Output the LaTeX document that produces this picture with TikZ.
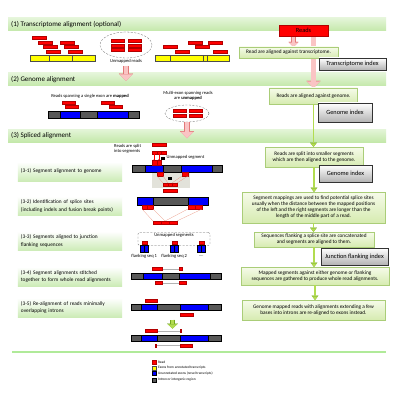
\documentclass[tikz,border=0pt]{standalone}
\usepackage{fontspec}
\setmainfont{Carlito}
\usetikzlibrary{arrows.meta,shadows,backgrounds,shapes.geometric}

\definecolor{readred}{RGB}{255,0,0}
\definecolor{exonblue}{RGB}{0,0,255}
\definecolor{introngray}{RGB}{88,88,88}
\definecolor{knownyellow}{RGB}{255,255,0}
\definecolor{bandgreen}{RGB}{196,232,170}
\definecolor{boxgreen}{RGB}{214,235,176}
\definecolor{boxgreenl}{RGB}{246,251,234}
\definecolor{boxedge}{RGB}{170,205,120}
\definecolor{arrpink}{RGB}{250,196,196}
\definecolor{arrpinkd}{RGB}{226,120,120}
\definecolor{arrgreen}{RGB}{178,220,80}
\definecolor{arrgreend}{RGB}{115,165,35}
\definecolor{graybox}{RGB}{226,226,218}

\newcommand\fourdots{....}

\tikzset{
  read/.style={fill=readred, draw=red!70!black, line width=0.2pt},
  exon/.style={fill=exonblue, draw=black, line width=0.3pt},
  intron/.style={fill=introngray, draw=black, line width=0.3pt},
  known/.style={fill=knownyellow, draw=black!70, line width=0.3pt},
  gapline/.style={draw=black!30, line width=0.6pt},
  joinline/.style={draw=red!45!brown!60, line width=0.3pt},
  sectitle/.style={anchor=west, inner sep=0pt, font=\fontsize{10}{11}\selectfont},
  sublabel/.style={minimum width=52mm, minimum height=9.5mm, text width=49mm, inner xsep=1.5mm,
    align=left, top color=white, bottom color=bandgreen!85, font=\fontsize{7.6}{10}\selectfont},
  tinytxt/.style={inner sep=0pt, font=\fontsize{6.5}{7.5}\selectfont},
  legtxt/.style={inner sep=0pt, anchor=west, font=\fontsize{5}{5}\selectfont},
  stepbox/.style={draw=boxedge, line width=0.5pt, top color=boxgreenl, bottom color=boxgreen,
    align=center, inner sep=1pt, font=\fontsize{7.5}{8.5}\selectfont,
    drop shadow={shadow xshift=0.8pt, shadow yshift=-0.8pt, opacity=0.3}},
  idxbox/.style={draw=black!80, line width=0.8pt, top color=white, bottom color=black!30,
    inner sep=1pt, font=\fontsize{9}{10}\selectfont,
    drop shadow={shadow xshift=1.2pt, shadow yshift=-1.2pt, opacity=0.5}},
  readsbox/.style={fill=readred, draw=red!70!black, line width=0.4pt, minimum width=24.5mm,
    minimum height=5.5mm, font=\fontsize{9}{10}\selectfont},
  pinkarr/.style={draw=arrpink, line width=7pt,
    -{Triangle[length=9pt,width=18pt,line width=0.1pt]},
    preaction={draw=arrpinkd, line width=8.2pt, -{Triangle[length=10pt,width=20pt,line width=0.1pt]}}},
  pinksmall/.style={draw=arrpink, line width=5pt,
    -{Triangle[length=6pt,width=12pt,line width=0.1pt]},
    preaction={draw=arrpinkd, line width=6.2pt, -{Triangle[length=7pt,width=14pt,line width=0.1pt]}}},
  greenarr/.style={draw=arrgreen, line width=1.8pt,
    -{Triangle[length=5pt,width=7.5pt,line width=0.1pt]},
    preaction={draw=arrgreend, line width=2.8pt, -{Triangle[length=6pt,width=9.5pt,line width=0.1pt]}}},
  greenblk/.style={draw=arrgreen, line width=5pt,
    -{Triangle[length=6pt,width=13pt,line width=0.1pt]},
    preaction={draw=arrgreend, line width=6pt, -{Triangle[length=7pt,width=15pt,line width=0.1pt]}}},
}

\begin{document}
\begin{tikzpicture}[x=0.5mm, y=-0.5mm]
  \useasboundingbox (0,0) rectangle (400,400);
  \begin{pgfonlayer}{background}
    \fill[white] (0,0) rectangle (400,400);
    % section bands
    \foreach \y in {18,73,129}
      \shade[top color=bandgreen!45, bottom color=bandgreen] (8,\y) rectangle (386,\y+13);
  \end{pgfonlayer}
  \node[sectitle] (sec1) at (11,24.5) {(1) Transcriptome alignment (optional)};
  \node[sectitle] (sec2) at (11,79.5) {(2) Genome alignment};
  \node[sectitle] (sec3) at (11,135.5) {(3) Spliced alignment};

  % (1) reads on known transcripts
  \filldraw[known] (30,55) rectangle (95,61);
  \foreach \a in {49,72} \draw[black!70, line width=0.3pt] (\a,55) -- (\a,61);
  \foreach \a/\y in {32/36.5,38/41,43/45.5,46/50,60/41,64/45.5,68/50}
    \filldraw[read] (\a,\y) rectangle (\a+14,\y+3);
  \filldraw[known] (155,55) rectangle (229,61);
  \foreach \a in {170,203,207} \draw[black!70, line width=0.3pt] (\a,55) -- (\a,61);
  \foreach \a/\y in {163/45.5,175/50,188/41,195/45.5,208/41,213/50}
    \filldraw[read] (\a,\y) rectangle (\a+14,\y+3);
  \node[ellipse, draw=black!60, densely dashed, minimum width=26mm, minimum height=13mm] (unmap1) at (126,45) {};
  \foreach \a in {111,128} \foreach \y in {39.5,44,48.5}
    \filldraw[read] (\a,\y) rectangle (\a+13.5,\y+3);
  \node[tinytxt] (unmaplbl) at (126,61.5) {Unmapped reads};
  \draw[pinkarr] (unmaplbl.south) ++(0,2) -- ++(0,15);

  % (2) genome alignment
  \node[tinytxt] (maplbl) at (90,96) {Reads spanning a single exon are \textbf{mapped}};
  \foreach \a/\b/\k in {48/60/intron,60/80/exon,80/97/intron,97/128/exon,128/139/intron}
    \filldraw[\k] (\a,111) rectangle (\b,118);
  \foreach \a/\y in {62/101,65/105.5,101/101,109/105.5}
    \filldraw[read] (\a,\y) rectangle (\a+13.5,\y+3);
  \node[tinytxt, align=center] (multilbl) at (188,96) {Multi-exon spanning reads\\are \textbf{unmapped}};
  \node[ellipse, draw=black!60, densely dashed, minimum width=22mm, minimum height=8.5mm] (unmap2) at (187,113.5) {};
  \foreach \a in {173,189.5} \foreach \y in {109.5,114}
    \filldraw[read] (\a,\y) rectangle (\a+13,\y+3);
  \draw[pinkarr] (unmap2.south) -- ++(0,16);

  % (3) spliced alignment, labels
  \foreach \y/\txt [count=\i] in {171.5/{(3-1) Segment alignment to genome},
      206/{(3-2) Identification of splice sites\\(including indels and fusion break points)},
      241/{(3-3) Segments aligned to junction\\flanking sequences},
      276.5/{(3-4) Segment alignments stitched\\together to form whole read alignments},
      307.5/{(3-5) Re-alignment of reads minimally\\overlapping introns}}
    \node[sublabel] (sub\i) at (70,\y) {\txt};

  % (3-1)
  \node[tinytxt, align=left, anchor=west] (splitlbl) at (114,148.5) {Reads are split\\into segments};
  \filldraw[read] (152,143.5) rectangle (166,146.5);
  \foreach \a in {152,156.67,161.33} \filldraw[read] (\a,151) rectangle (\a+4.67,154);
  \foreach \a in {154.3,159}
    \draw[red, line width=0.4pt, -{Stealth[length=2pt,width=2pt]}] (\a,154) -- (\a,160.5);
  \fill[black] (161,156.5) rectangle (164.5,160);
  \node[tinytxt, anchor=west] (unmapseg) at (166.5,157.5) {Unmapped segment};
  \fill[graybox] (152,172) rectangle (190,188);
  \foreach \a/\b/\k in {132/145/intron,145/163/exon,163/181/intron,181/212/exon,212/222/intron}
    \filldraw[\k] (\a,165) rectangle (\b,172);
  \foreach \a in {152.5,157} \filldraw[read] (\a,160.5) rectangle (\a+4.5,165);
  \filldraw[read] (157,172) rectangle (163,176);
  \filldraw[read] (182,172) rectangle (188,176);
  \fill[black] (168,176.5) rectangle (171.5,180);
  \draw[joinline] (157,176) -- (163,183) (163,176) -- (168,183) (182,176) -- (172,183) (188,176) -- (177,183);
  \foreach \a in {163,167.67,172.33} \filldraw[read] (\a,183) rectangle (\a+4.67,186);
  \filldraw[read] (163,189) rectangle (177,192);

  % (3-2)
  \foreach \a/\b/\k in {137/153/exon,153/188/intron,188/208/exon}
    \filldraw[\k] (\a,197) rectangle (\b,205);
  \foreach \a/\b in {142/147.5,147.5/153,188/195,195/202}
    \filldraw[read] (\a,205) rectangle (\b,209);
  \draw[joinline] (142,209) -- (153,221) (153,209) -- (165,221) (188,209) -- (165,221) (202,209) -- (177,221);
  \foreach \a in {153,161,169} \filldraw[read] (\a,221) rectangle (\a+8,224.5);

  % (3-3)
  \node[draw=black!60, densely dashed, rounded corners=2pt, minimum width=36mm, minimum height=6.5mm] (useg) at (174,239) {};
  \node[tinytxt, anchor=north] (useglbl) at ([yshift=-0.8pt]useg.north) {Unmapped segments};
  \foreach \a/\lbl [count=\i] in {140/{flanking seq 1},170/{flanking seq 2},197/{\fourdots}} {
    \filldraw[read] (\a+2,241) rectangle (\a+7.5,244);
    \filldraw[exon] (\a,245) rectangle (\a+4.25,252);
    \filldraw[exon] (\a+4.25,245) rectangle (\a+8.5,252);
    \node[tinytxt] (flk\i) at (\a+4.25,256.5) {\lbl};
  }

  % (3-4)
  \foreach \a/\b/\k in {131/143/intron,143/162/exon,162/179/intron,179/210/exon,210/221/intron}
    \filldraw[\k] (\a,273) rectangle (\b,279);
  \draw[gapline] (162,269) -- (179,269) (162,283) -- (179,283);
  \filldraw[read] (152,267.5) rectangle (162,270.5);
  \filldraw[read] (179,267.5) rectangle (182.5,270.5);
  \filldraw[read] (155,281.5) rectangle (162,284.5);
  \filldraw[read] (179,281.5) rectangle (186,284.5);

  % (3-5)
  \filldraw[read] (145,299) rectangle (157,302);
  \foreach \y in {304,335}
    \foreach \a/\b/\k in {131/141/intron,141/157/exon,157/180/intron,180/208/exon,208/221/intron}
      \filldraw[\k] (\a,\y) rectangle (\b,\y+6.5);
  \filldraw[read] (180,313.5) rectangle (193,316.5);
  \draw[greenblk] (172.5,319.5) -- (172.5,328.5);
  \draw[gapline] (157,331) -- (180,331) (156.5,345.5) -- (180,345.5);
  \filldraw[read] (145,329.5) rectangle (157,332.5);
  \filldraw[read] (180,329.5) rectangle (181.5,332.5);
  \filldraw[read] (155,344) rectangle (156.5,347);
  \filldraw[read] (180,344) rectangle (192,347);

  \draw[bandgreen!90!green, line width=1.8pt] (12,352) -- (386,352);

  % legend
  \foreach \y/\k/\txt [count=\i] in {360/read/Read, 366/known/Exons from annotated transcripts,
      371.5/exon/Unannotated  exons (novel transcripts), 378/intron/Intron or intergenic region} {
    \filldraw[\k] (152,\y) rectangle (156,\y+4);
    \node[legtxt] (leg\i) at (158,\y+2) {\txt};
  }

  % flow on the right
  \node[readsbox] (reads) at (303.5,30.5) {Reads};
  \node[stepbox, minimum width=49.5mm, minimum height=5.5mm] (trans) at (288.5,52.5) {Read are aligned against transcriptome.};
  \node[idxbox, minimum width=33.5mm, minimum height=6mm] (tidx) at (352.5,64) {Transcriptome index};
  \node[stepbox, minimum width=44mm, minimum height=8mm] (gen) at (313.5,96) {Reads are aligned against genome.};
  \node[idxbox, minimum width=27mm, minimum height=9.5mm] (gidx1) at (345,112.5) {Genome index};
  \node[stepbox, minimum width=49mm, minimum height=10mm] (split) at (314,157) {Reads are split into smaller segments\\which are then aligned to the genome.};
  \node[idxbox, minimum width=26.5mm, minimum height=8.5mm] (gidx2) at (345.5,173.5) {Genome index};
  \node[stepbox, minimum width=71.5mm, minimum height=15.5mm] (splice) at (313.5,207.5) {Segment mappings are used to find potential splice sites\\usually when the distance between the mapped positions\\of the left and the right segments are longer than the\\length of the middle part of a read.};
  \node[stepbox, minimum width=60mm, minimum height=7.5mm] (flank) at (314,239.5) {Sequences flanking a splice site are concatenated\\and segments are aligned to them.};
  \node[idxbox, minimum width=33.5mm, minimum height=8.5mm] (jidx) at (354.5,256.5) {Junction flanking index};
  \node[stepbox, minimum width=74mm, minimum height=9mm] (gather) at (315,276) {Mapped segments against either genome or flanking\\sequences are gathered to produce whole read alignments.};
  \node[stepbox, minimum width=71.5mm, minimum height=10mm] (realn) at (313.5,310) {Genome mapped reads with alignments extending a few\\bases into introns are re-aligned to exons instead.};

  \begin{pgfonlayer}{background}
    \draw[pinksmall] ([xshift=-5mm]reads.south) -- ([xshift=-5mm]reads.south |- trans.north);
    \draw[pinkarr] ([xshift=5mm]reads.south) -- ([xshift=5mm]reads.south |- gen.north);
  \end{pgfonlayer}
  \draw[greenarr] (gen.south) -- (gen.south |- split.north);
  \draw[greenarr] (split.south) -- (split.south |- splice.north);
  \draw[greenarr] (splice.south) -- (splice.south |- flank.north);
  \draw[greenarr] (flank.south) -- (flank.south |- gather.north);
  \draw[greenarr] (gather.south) -- (gather.south |- realn.north);
\end{tikzpicture}
\end{document}
